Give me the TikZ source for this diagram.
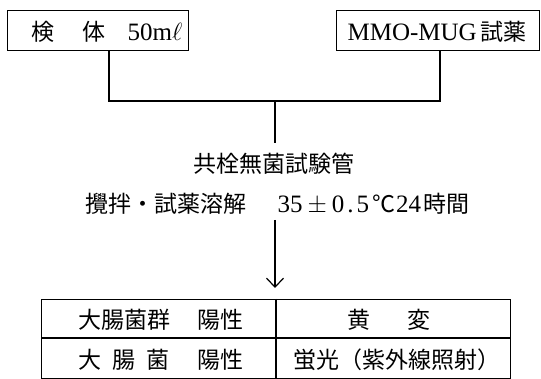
\documentclass[tikz,border=0pt]{standalone}
\usepackage{fontspec}
\setmainfont{Liberation Serif}
\newfontfamily\jpfont{Noto Sans CJK JP}
\newcommand\jtxt[1]{{\jpfont #1}}
\newcommand\lat[1]{{\fontsize{25}{28}\selectfont #1}}
\usetikzlibrary{arrows.meta}
\begin{document}
\begin{tikzpicture}[x=1pt,y=-1pt,line width=1.2pt,
  lbl/.style={inner sep=0pt,anchor=west,font=\fontsize{23}{27}\selectfont},
  clbl/.style={inner sep=0pt,font=\fontsize{23}{27}\selectfont},
  boxst/.style={draw,inner sep=0pt,anchor=north west},
  arr/.style={-{Straight Barb[length=9pt,width=17pt,line width=1.2pt]}}]
\useasboundingbox (0,0) rectangle (541,379);
% boxes
\node[boxst,minimum width=181pt,minimum height=40pt] (lbox) at (7,10) {};
\node[boxst,minimum width=203pt,minimum height=40pt] (rbox) at (336,10) {};
\node[lbl] (ltxt) at (31,32) {\jtxt{検}\hspace{28pt}\jtxt{体}\hspace{22pt}\lat{50m$\ell$}};
\node[lbl] (rtxt) at (347,32) {\lat{MMO-MUG}\hspace{4pt}\jtxt{試薬}};
% connectors
\coordinate (jl) at (109,101);
\coordinate (jr) at (440,101);
\coordinate (jc) at (275,101);
\coordinate (jd) at (275,143);
\draw (jl |- lbox.south) -- (jl) -- (jr) -- (jr |- rbox.south);
\draw (jc) -- (jd);
% middle texts
\node[clbl] (t1) at (274,164) {\jtxt{共栓無菌試験管}};
\node[lbl] (t2a) at (85,204) {\jtxt{攪拌・試薬溶解}};
\node[lbl] (t2b) at (277,204) {\lat{35}\hspace{5pt}\lat{$\pm$}\hspace{5pt}\lat{0\hspace{3pt}.\hspace{3pt}5}\hspace{3pt}\jtxt{℃}\hspace{1pt}\lat{24}\hspace{2pt}\jtxt{時間}};
% arrow
\coordinate (a0) at (275,220);
\coordinate (a1) at (275,288);
\draw[arr] (a0) -- (a1);
% table
\node[boxst,minimum width=469pt,minimum height=79pt] (tbl) at (41,299) {};
\coordinate (mid) at (276,338);
\draw (tbl.west |- mid) -- (tbl.east |- mid);
\draw (mid |- tbl.north) -- (mid |- tbl.south);
\node[lbl] (r1l) at (78,320) {\jtxt{大腸菌群}};
\node[lbl] (r1p) at (197,320) {\jtxt{陽性}};
\node[lbl] (r1a) at (347,320) {\jtxt{黄}};
\node[lbl] (r1b) at (407,320) {\jtxt{変}};
\node[lbl] (r2a) at (78,360) {\jtxt{大}};
\node[lbl] (r2b) at (112,360) {\jtxt{腸}};
\node[lbl] (r2c) at (146,360) {\jtxt{菌}};
\node[lbl] (r2p) at (197,360) {\jtxt{陽性}};
\node[lbl] (r2r) at (293,360) {\jtxt{蛍光（紫外線照射）}};
\end{tikzpicture}
\end{document}
